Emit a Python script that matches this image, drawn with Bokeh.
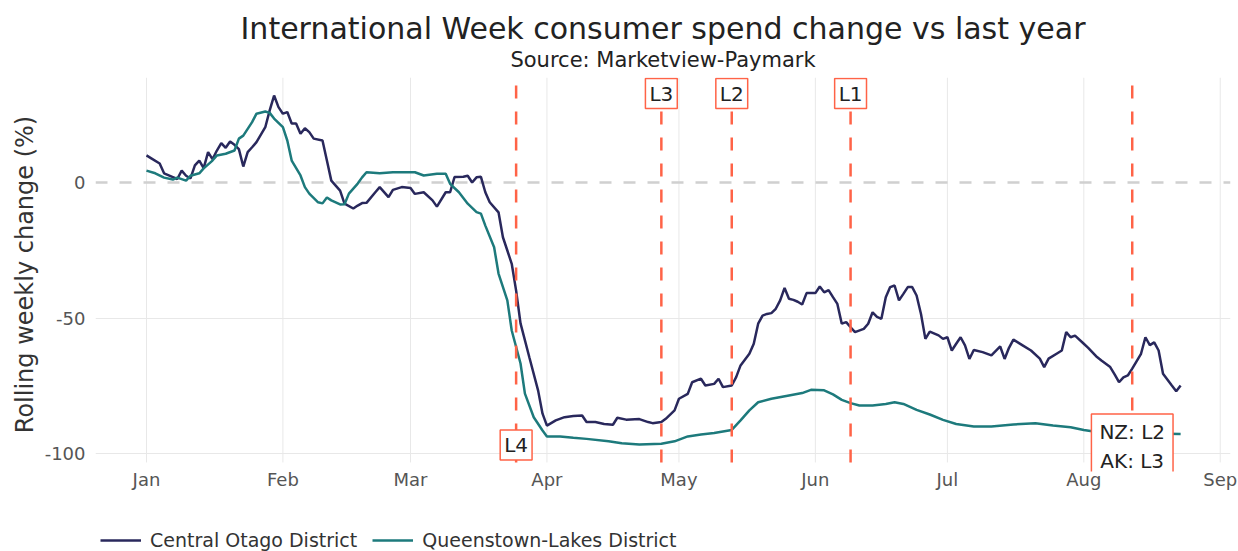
import pandas as pd
from bokeh.plotting import figure
from bokeh.layouts import column
from bokeh.models import (Range1d, FixedTicker, DatetimeTickFormatter, Span, Label,
                          Legend, LegendItem, Title)
from bokeh.embed import file_html
from bokeh.resources import INLINE

# ---------------- data ----------------
co_dates = [
    "2020-01-01", "2020-01-02", "2020-01-04", "2020-01-05", "2020-01-07", "2020-01-08", "2020-01-09",
    "2020-01-10", "2020-01-11", "2020-01-12", "2020-01-13", "2020-01-14", "2020-01-15", "2020-01-16",
    "2020-01-17", "2020-01-18", "2020-01-19", "2020-01-20", "2020-01-21", "2020-01-22", "2020-01-23",
    "2020-01-24", "2020-01-25", "2020-01-26", "2020-01-28", "2020-01-29", "2020-01-30", "2020-01-31",
    "2020-02-01", "2020-02-02", "2020-02-03", "2020-02-04", "2020-02-05", "2020-02-06", "2020-02-07",
    "2020-02-08", "2020-02-10", "2020-02-11", "2020-02-12", "2020-02-14", "2020-02-15", "2020-02-17",
    "2020-02-18", "2020-02-19", "2020-02-20", "2020-02-22", "2020-02-23", "2020-02-25", "2020-02-26",
    "2020-02-28", "2020-03-01", "2020-03-02", "2020-03-04", "2020-03-06", "2020-03-07", "2020-03-09",
    "2020-03-10", "2020-03-11", "2020-03-13", "2020-03-14", "2020-03-15", "2020-03-16", "2020-03-17",
    "2020-03-18", "2020-03-19", "2020-03-21", "2020-03-22", "2020-03-24", "2020-03-25", "2020-03-26",
    "2020-03-28", "2020-03-30", "2020-03-31", "2020-04-01", "2020-04-03", "2020-04-05", "2020-04-07",
    "2020-04-09", "2020-04-10", "2020-04-12", "2020-04-14", "2020-04-16", "2020-04-17", "2020-04-19",
    "2020-04-22", "2020-04-24", "2020-04-25", "2020-04-27", "2020-04-28", "2020-04-30", "2020-05-01",
    "2020-05-03", "2020-05-04", "2020-05-06", "2020-05-07", "2020-05-09", "2020-05-10", "2020-05-11",
    "2020-05-13", "2020-05-14", "2020-05-15", "2020-05-17", "2020-05-18", "2020-05-19", "2020-05-20",
    "2020-05-21", "2020-05-22", "2020-05-23", "2020-05-24", "2020-05-25", "2020-05-26", "2020-05-27",
    "2020-05-28", "2020-05-29", "2020-05-30", "2020-06-01", "2020-06-02", "2020-06-03", "2020-06-04",
    "2020-06-05", "2020-06-06", "2020-06-07", "2020-06-08", "2020-06-09", "2020-06-10", "2020-06-12",
    "2020-06-13", "2020-06-14", "2020-06-15", "2020-06-16", "2020-06-17", "2020-06-18", "2020-06-19",
    "2020-06-20", "2020-06-21", "2020-06-22", "2020-06-23", "2020-06-24", "2020-06-25", "2020-06-26",
    "2020-06-27", "2020-06-29", "2020-06-30", "2020-07-01", "2020-07-02", "2020-07-03", "2020-07-04",
    "2020-07-05", "2020-07-06", "2020-07-07", "2020-07-09", "2020-07-11", "2020-07-13", "2020-07-14",
    "2020-07-15", "2020-07-16", "2020-07-18", "2020-07-20", "2020-07-22", "2020-07-23", "2020-07-24",
    "2020-07-26", "2020-07-27", "2020-07-28", "2020-07-29", "2020-07-30", "2020-08-01", "2020-08-02",
    "2020-08-04", "2020-08-05", "2020-08-07", "2020-08-08", "2020-08-09", "2020-08-10", "2020-08-11",
    "2020-08-12", "2020-08-14", "2020-08-15", "2020-08-16", "2020-08-17", "2020-08-18", "2020-08-19",
    "2020-08-21", "2020-08-22", "2020-08-23",
]
co_values = [
    10.0, 9.0, 7.0, 3.4, 2.0, 1.3, 4.4,
    2.5, 1.5, 6.3, 8.1, 5.3, 11.2, 8.6,
    11.8, 14.5, 12.8, 15.1, 13.9, 12.3, 5.9,
    11.2, 13.0, 14.9, 20.4, 26.6, 32.1, 27.8,
    25.4, 26.0, 21.8, 21.8, 18.0, 20.0, 18.6,
    16.2, 15.5, 8.1, 0.7, -3.0, -7.8, -9.6,
    -8.5, -7.6, -7.5, -3.6, -1.7, -5.4, -2.7,
    -1.7, -2.0, -4.2, -3.6, -6.6, -8.9, -3.6,
    -3.6, 2.0, 2.1, 2.5, 0.0, 1.9, 2.1,
    -3.6, -7.3, -11.0, -20.2, -30.0, -39.9, -52.0,
    -64.5, -76.8, -85.3, -89.7, -87.8, -86.6, -86.2,
    -86.0, -88.4, -88.4, -89.1, -89.4, -86.8, -87.5,
    -87.3, -88.4, -88.8, -88.4, -87.2, -84.1, -79.8,
    -78.0, -73.7, -72.4, -74.9, -74.3, -72.4, -75.5,
    -74.9, -71.8, -67.5, -63.2, -59.5, -52.1, -49.1,
    -48.5, -48.2, -46.6, -43.5, -38.9, -42.9, -43.3,
    -44.0, -45.0, -40.8, -40.8, -38.4, -40.5, -39.7,
    -42.3, -44.8, -52.1, -51.5, -53.4, -55.2, -54.0,
    -52.1, -47.9, -49.6, -50.3, -42.3, -38.6, -38.0,
    -43.5, -41.1, -38.6, -38.6, -41.7, -48.5, -57.7,
    -55.0, -56.4, -57.7, -57.1, -62.0, -59.5, -57.1,
    -60.1, -65.1, -61.8, -62.6, -63.8, -60.5, -65.1,
    -61.0, -58.0, -60.0, -62.0, -65.0, -68.1, -65.0,
    -63.0, -62.0, -55.2, -57.1, -56.5, -59.5, -61.0,
    -64.4, -65.7, -68.1, -70.8, -73.7, -71.9, -71.2,
    -68.7, -63.2, -57.1, -60.0, -59.0, -62.0, -70.6,
    -74.9, -77.0, -74.9,
]

ql_dates = [
    "2020-01-01", "2020-01-03", "2020-01-05", "2020-01-07", "2020-01-08", "2020-01-10", "2020-01-11",
    "2020-01-13", "2020-01-14", "2020-01-16", "2020-01-17", "2020-01-19", "2020-01-21", "2020-01-22",
    "2020-01-23", "2020-01-25", "2020-01-26", "2020-01-28", "2020-01-29", "2020-01-30", "2020-02-01",
    "2020-02-02", "2020-02-03", "2020-02-05", "2020-02-06", "2020-02-07", "2020-02-09", "2020-02-10",
    "2020-02-11", "2020-02-12", "2020-02-14", "2020-02-15", "2020-02-16", "2020-02-18", "2020-02-19",
    "2020-02-20", "2020-02-23", "2020-02-26", "2020-02-29", "2020-03-02", "2020-03-04", "2020-03-07",
    "2020-03-09", "2020-03-10", "2020-03-12", "2020-03-14", "2020-03-16", "2020-03-17", "2020-03-18",
    "2020-03-20", "2020-03-21", "2020-03-23", "2020-03-24", "2020-03-26", "2020-03-27", "2020-03-29",
    "2020-03-31", "2020-04-01", "2020-04-04", "2020-04-07", "2020-04-10", "2020-04-15", "2020-04-18",
    "2020-04-22", "2020-04-27", "2020-04-30", "2020-05-03", "2020-05-06", "2020-05-09", "2020-05-13",
    "2020-05-15", "2020-05-17", "2020-05-19", "2020-05-22", "2020-05-26", "2020-05-29", "2020-05-31",
    "2020-06-03", "2020-06-05", "2020-06-07", "2020-06-09", "2020-06-11", "2020-06-14", "2020-06-17",
    "2020-06-19", "2020-06-21", "2020-06-24", "2020-06-27", "2020-06-30", "2020-07-03", "2020-07-07",
    "2020-07-11", "2020-07-16", "2020-07-21", "2020-07-25", "2020-07-29", "2020-08-01", "2020-08-04",
    "2020-08-13", "2020-08-23",
]
ql_values = [
    4.4, 3.4, 1.8, 1.1, 1.8, 0.7, 2.5,
    3.4, 5.2, 8.1, 10.0, 10.6, 11.8, 16.2,
    17.3, 22.3, 25.4, 26.2, 25.7, 23.6, 20.4,
    15.5, 8.1, 2.6, -1.7, -4.1, -7.3, -7.7,
    -5.5, -6.6, -8.1, -8.0, -4.1, -0.4, 1.9,
    3.8, 3.4, 3.8, 3.8, 3.8, 2.6, 3.2,
    3.2, -0.5, -3.6, -7.8, -10.9, -11.5, -15.9,
    -23.9, -33.6, -43.5, -54.6, -66.8, -77.9, -86.6,
    -91.5, -93.7, -93.7, -94.2, -94.6, -95.5, -96.2,
    -96.7, -96.4, -95.5, -93.7, -93.0, -92.4, -91.3,
    -87.8, -84.1, -81.1, -79.8, -78.6, -77.7, -76.5,
    -76.7, -78.2, -80.2, -81.4, -82.3, -82.3, -81.7,
    -81.1, -81.7, -83.9, -85.6, -87.6, -89.1, -90.0,
    -90.0, -89.3, -88.8, -89.7, -90.3, -91.3, -92.1,
    -92.5, -92.8,
]

series_names = ["Central Otago District", "Queenstown-Lakes District"]
series_colors = ["#29285c", "#1d7a7c"]

event_dates = ["2020-03-25", "2020-04-27", "2020-05-13", "2020-06-09", "2020-08-12"]
event_labels = ["L4", "L3", "L2", "L1", "NZ: L2\nAK: L3"]
event_label_y = [-96.9, 32.8, 32.8, 32.8, -97.4]

month_ticks = ["2020-01-01", "2020-02-01", "2020-03-01", "2020-04-01", "2020-05-01",
               "2020-06-01", "2020-07-01", "2020-08-01", "2020-09-01"]
y_ticks = [-100, -50, 0]
y_tick_labels = ["-100", "-50", "0"]

title_text = "International Week consumer spend change vs last year"
subtitle_text = "Source: Marketview-Paymark"
y_label = "Rolling weekly change (%)"

# ---------------- helpers ----------------
def ms(d):
    return pd.Timestamp(d).value / 1e6

FONT = "DejaVu Sans"
EVENT_COLOR = "#ff6347"
Y_TOP, Y_BOTTOM = 38.75, -106.64      # visible range of the frame
GRID_LOW = -103.3                     # where the reference's vertical rules stop

p = figure(width=1238, height=500, output_backend="svg", toolbar_location=None,
           x_axis_type="datetime",
           x_range=Range1d(ms("2019-12-20 10:00"), ms("2020-09-03 08:00")),
           y_range=Range1d(Y_BOTTOM, Y_TOP),
           min_border_left=95, min_border_right=8, min_border_top=77, min_border_bottom=29)
p.outline_line_color = None
p.background_fill_color = "white"

# titles
sub = Title(text=subtitle_text, align="center", text_font=FONT, text_font_size="21px",
            text_font_style="normal", text_color="#222222", standoff=12)
main = Title(text=title_text, align="center", text_font=FONT, text_font_size="30px",
             text_font_style="normal", text_color="#222222", standoff=-13)
p.title = None
p.add_layout(sub, "above")
p.add_layout(main, "above")

# axes
xt = FixedTicker(ticks=[ms(d) for d in month_ticks])
p.xaxis.ticker = xt
p.xaxis.formatter = DatetimeTickFormatter(months="%b", days="%b", hours="%b", years="%b")
p.yaxis.ticker = FixedTicker(ticks=y_ticks)
p.yaxis.major_label_overrides = dict(zip(y_ticks, y_tick_labels))
for ax in (p.xaxis, p.yaxis):
    ax.axis_line_color = None
    ax.major_tick_line_color = None
    ax.minor_tick_line_color = None
    ax.major_tick_out = 0
    ax.major_tick_in = 0
    ax.minor_tick_out = 0
    ax.minor_tick_in = 0
    ax.major_label_text_font = FONT
    ax.major_label_text_font_size = "18px"
    ax.major_label_text_color = "#555555"
p.xaxis.major_label_standoff = -3
p.yaxis.major_label_standoff = 10
p.yaxis.axis_label = y_label
p.yaxis.axis_label_text_font = FONT
p.yaxis.axis_label_text_font_size = "24px"
p.yaxis.axis_label_text_font_style = "normal"
p.yaxis.axis_label_text_color = "#333333"
p.yaxis.axis_label_standoff = 3

p.xgrid.grid_line_color = None
p.ygrid.ticker = FixedTicker(ticks=[t for t in y_ticks if t != 0])
p.ygrid.grid_line_color = "#e8e8e8"
p.ygrid.grid_line_width = 1

# vertical month rules (stop where the reference's grid stops)
mx = [ms(d) for d in month_ticks]
p.segment(x0=mx, y0=[GRID_LOW] * len(mx), x1=mx, y1=[Y_TOP] * len(mx),
          line_color="#e8e8e8", line_width=1, level="underlay")

# zero line
p.add_layout(Span(location=0, dimension="width", line_color="#d0d0d0", line_width=2.5,
                  line_dash="12 12", level="underlay"))

# series
for dates, vals, col in ((co_dates, co_values, series_colors[0]),
                         (ql_dates, ql_values, series_colors[1])):
    p.line([ms(d) for d in dates], vals, line_color=col, line_width=2.5)

# event lines and labels
ex = [ms(d) for d in event_dates]
p.segment(x0=ex, y0=[GRID_LOW] * len(ex), x1=ex, y1=[Y_TOP] * len(ex),
          line_color=EVENT_COLOR, line_width=2.5, line_dash="13 13")
for d, txt, yv in zip(event_dates, event_labels, event_label_y):
    multi = "\n" in txt
    p.add_layout(Label(x=ms(d), y=yv, text=txt, text_align="center", text_baseline="middle",
                       text_font=FONT, text_font_size="20px", text_color="#222222",
                       text_line_height=1.2,
                       background_fill_color="white", background_fill_alpha=1.0,
                       border_line_color=EVENT_COLOR, border_line_width=1.5,
                       padding=(8, 6) if multi else (4, 3)))

# ---------------- legend strip under the chart ----------------
lg = figure(width=1238, height=51, output_backend="svg", toolbar_location=None,
            x_range=Range1d(0, 1), y_range=Range1d(0, 1),
            x_axis_location=None, y_axis_location=None,
            min_border_left=0, min_border_right=0, min_border_top=0, min_border_bottom=0)
lg.outline_line_color = None
lg.grid.visible = False
# key lines live outside the strip's visible range; only their legend swatches show
key_renderers = [lg.line(x=[-2, -1], y=[-2, -1], line_color=c, line_width=2.5) for c in series_colors]
legend = Legend(items=[LegendItem(label=n, renderers=[r]) for n, r in zip(series_names, key_renderers)],
                orientation="horizontal", location=(5, 0),
                label_text_font=FONT, label_text_font_size="19px", label_text_color="#333333",
                glyph_width=41, glyph_height=20, label_standoff=9, spacing=15,
                padding=0, margin=0, border_line_color=None, background_fill_alpha=0)
lg.add_layout(legend)

layout = column(p, lg, spacing=0)
open("out.html", "w").write(file_html(layout, INLINE))
